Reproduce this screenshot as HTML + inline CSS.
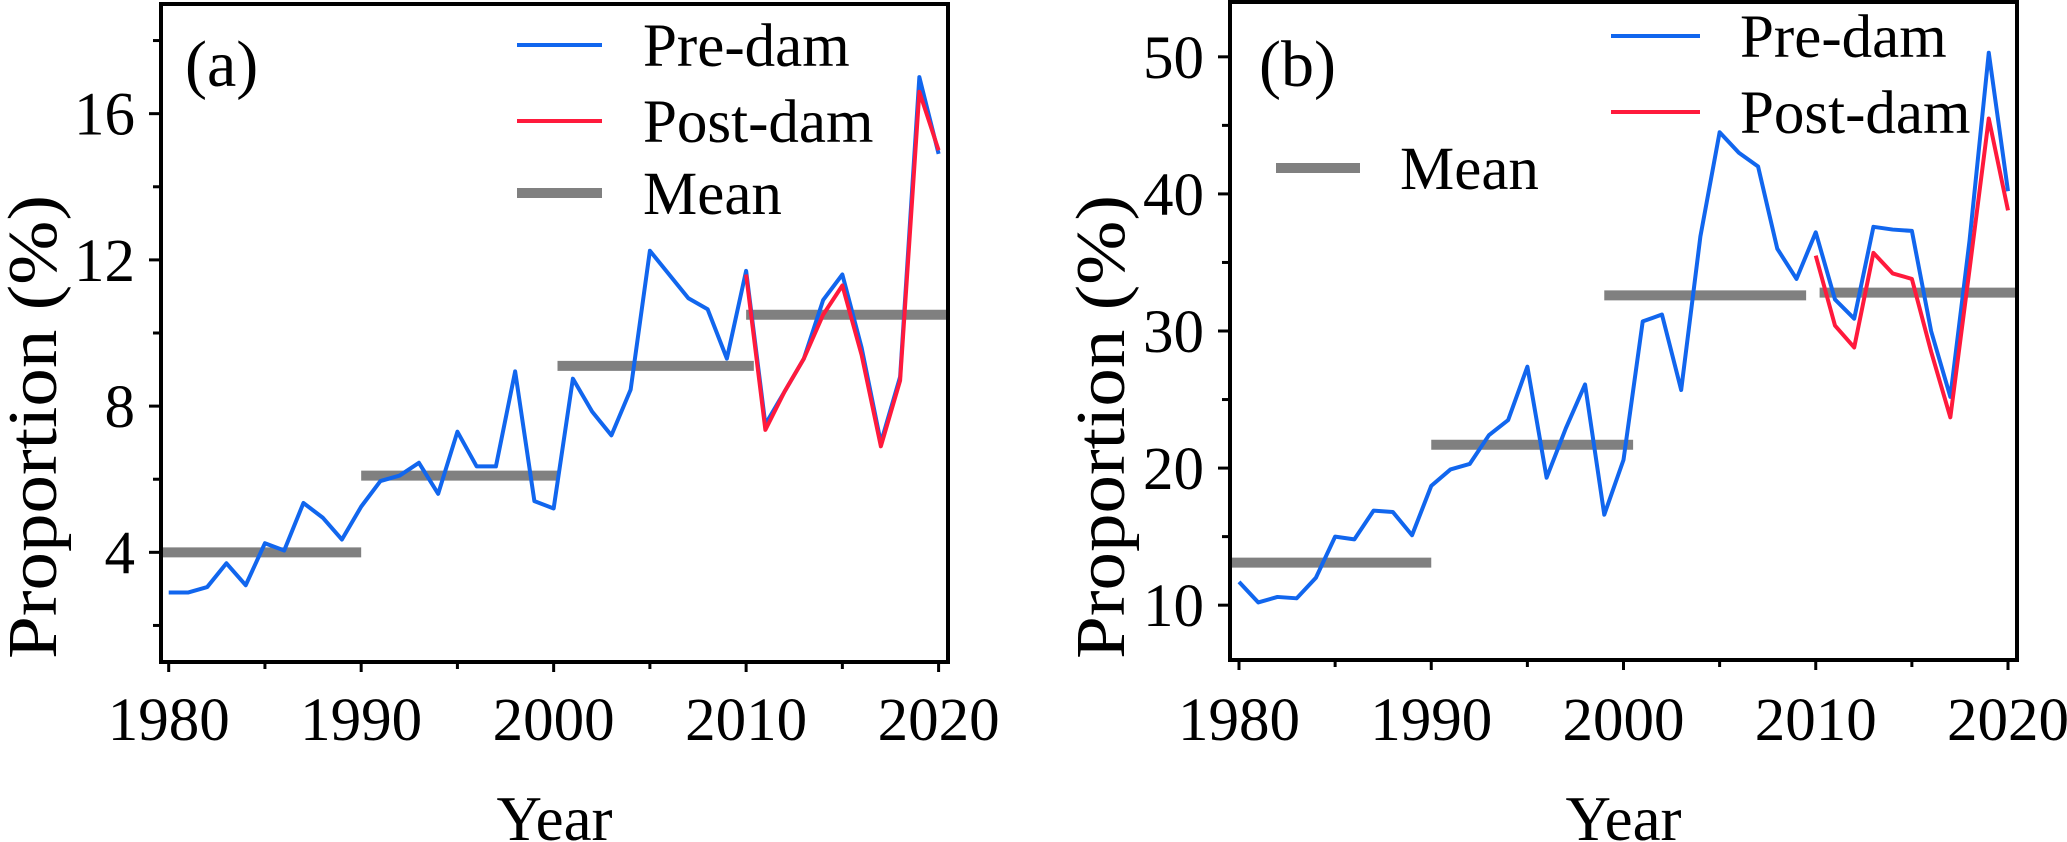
<!DOCTYPE html>
<html><head><meta charset="utf-8"><style>
html,body{margin:0;padding:0;background:#fff;}
svg{display:block;font-family:"Liberation Serif",serif;}
</style></head><body>
<svg id="chart" width="2067" height="842" viewBox="0 0 2067 842" xmlns="http://www.w3.org/2000/svg"></svg>
<script>
const years = [];
for (let y = 1980; y <= 2020; y++) years.push(y);
const postYears = [2010,2011,2012,2013,2014,2015,2016,2017,2018,2019,2020];
const preA = [2.9,2.9,3.05,3.7,3.1,4.25,4.05,5.35,4.95,4.35,5.25,5.95,6.1,6.45,5.6,7.3,6.35,6.35,8.95,5.4,5.2,8.75,7.85,7.2,8.45,12.25,11.6,10.95,10.65,9.3,11.7,7.5,8.4,9.3,10.9,11.6,9.6,7.0,8.8,17.0,14.9];
const postA = [11.6,7.35,8.4,9.3,10.5,11.3,9.4,6.9,8.7,16.6,15.0];
const meanA = [4.0,6.1,9.1,10.5];
const meanStartA = [1979.6,1990,2000.2,2010];
const meanEndA = [1990,2000.3,2010.4,2020.5];
const preB = [11.7,10.2,10.6,10.5,12.0,15.0,14.8,16.9,16.8,15.1,18.7,19.9,20.3,22.4,23.5,27.4,19.3,22.9,26.1,16.6,20.6,30.7,31.2,25.7,36.9,44.5,43.0,42.0,36.0,33.8,37.2,32.3,30.9,37.6,37.4,37.3,30.0,25.2,36.6,50.3,40.2];
const postB = [35.5,30.4,28.8,35.7,34.2,33.8,28.5,23.7,34.5,45.5,38.8];
const meanB = [13.1,21.7,32.6,32.8];
const meanStartB = [1979.4,1990,1999,2010.2];
const meanEndB = [1990,2000.5,2009.5,2020.6];
const xTicks = [1980,1990,2000,2010,2020];
const yTicksA = [4,8,12,16];
const yTicksB = [10,20,30,40,50];

const NS = "http://www.w3.org/2000/svg";
const svg = document.getElementById("chart");
function mk(tag, attrs, parent, text){
  const e = document.createElementNS(NS, tag);
  for (const k in attrs) e.setAttribute(k, attrs[k]);
  if (text !== undefined) e.textContent = text;
  (parent||svg).appendChild(e);
  return e;
}
function panel(p){
  const g = mk("g", {});
  
  
  const xs = v => p.x0 + (v - 1980) * (p.x1 - p.x0) / 40;
  const ys = v => p.yb + (p.ymin - v) * (p.yb - p.yt) / (p.ymax - p.ymin);
  p.mean.forEach((m, i) => {
    const l = mk("line", {x1: Math.max(p.L, xs(p.ms[i])), x2: Math.min(p.R, xs(p.me[i])), y1: ys(m), y2: ys(m), stroke: "#808080", "stroke-width": 10}, g);
    
    
  });
  const pre = mk("polyline", {points: years.map((y,i)=>xs(y)+","+ys(p.pre[i])).join(" "), fill:"none", stroke:"#1166ee", "stroke-width":4, "stroke-linejoin":"round"}, g);
  
  
  const post = mk("polyline", {points: postYears.map((y,i)=>xs(y)+","+ys(p.post[i])).join(" "), fill:"none", stroke:"#ff1a3c", "stroke-width":4, "stroke-linejoin":"round"}, g);
  
  
  const fr = mk("rect", {x:p.L, y:p.yt, width:p.R-p.L, height:p.yb-p.yt, fill:"none", stroke:"#000", "stroke-width":4}, g);
  
  
  for (let y = 1980; y <= 2020; y += 5){
    mk("line", {x1:xs(y), x2:xs(y), y1:p.yb, y2:p.yb+(y%10===0?10:7), stroke:"#000", "stroke-width":3}, g);
  }
  xTicks.forEach(t => {
    const tx = mk("text", {x:xs(t), y:740, "font-size":61, "text-anchor":"middle"}, g, t);
    
    
  });
  for (let v = p.minor0; v <= p.ymax; v += p.minorStep){
    const major = p.yt_lbl.includes(v);
    mk("line", {x1:p.L, x2:p.L-(major?12:8), y1:ys(v), y2:ys(v), stroke:"#000", "stroke-width":3}, g);
  }
  p.yt_lbl.forEach(t => {
    const tx = mk("text", {x:p.L-26, y:ys(t)+21, "font-size":61, "text-anchor":"end"}, g, t);
    
    
  });
  const xt = mk("text", {x:(p.L+p.R)/2, y:840, "font-size":63, "text-anchor":"middle"}, g, "Year");
  
  
  const yt = mk("text", {x:0, y:0, "font-size":70, "text-anchor":"middle", textLength:464, lengthAdjust:"spacingAndGlyphs", transform:`translate(${p.ytx},${p.yty}) rotate(-90)`}, g, "Proportion (%)");
  
  
  const lb = mk("text", {x:p.lblx, y:86, "font-size":66}, g, p.label);
  
  
  p.leg.forEach(e => {
    const lg = mk("g", {}, g);
    
    
    mk("line", {x1:e.x1, x2:e.x2, y1:e.y, y2:e.y, stroke:e.c, "stroke-width":e.w}, lg);
    mk("text", {x:e.tx, y:e.y+21, "font-size":61}, lg, e.t);
  });
}
panel({name:"panel-a", L:161, R:948, yt:4, yb:662, x0:168.7, x1:938.6, ymin:1, ymax:19,
  pre:preA, post:postA, mean:meanA, ms:meanStartA, me:meanEndA, yt_lbl:yTicksA, minor0:2, minorStep:2,
  ytx:56, yty:427, lblx:185, label:"(a)",
  leg:[{x1:517,x2:602,y:45,c:"#1166ee",w:4,tx:643,t:"Pre-dam"},
       {x1:517,x2:602,y:121,c:"#ff1a3c",w:4,tx:643,t:"Post-dam"},
       {x1:517,x2:602,y:193,c:"#808080",w:10,tx:643,t:"Mean"}]});
panel({name:"panel-b", L:1230, R:2017, yt:2, yb:660, x0:1239, x1:2008, ymin:6, ymax:54,
  pre:preB, post:postB, mean:meanB, ms:meanStartB, me:meanEndB, yt_lbl:yTicksB, minor0:10, minorStep:5,
  ytx:1124, yty:427, lblx:1259, label:"(b)",
  leg:[{x1:1611,x2:1700,y:36,c:"#1166ee",w:4,tx:1740,t:"Pre-dam"},
       {x1:1611,x2:1700,y:112,c:"#ff1a3c",w:4,tx:1740,t:"Post-dam"},
       {x1:1276,x2:1360,y:168,c:"#808080",w:10,tx:1400,t:"Mean"}]});
</script>
</body></html>
